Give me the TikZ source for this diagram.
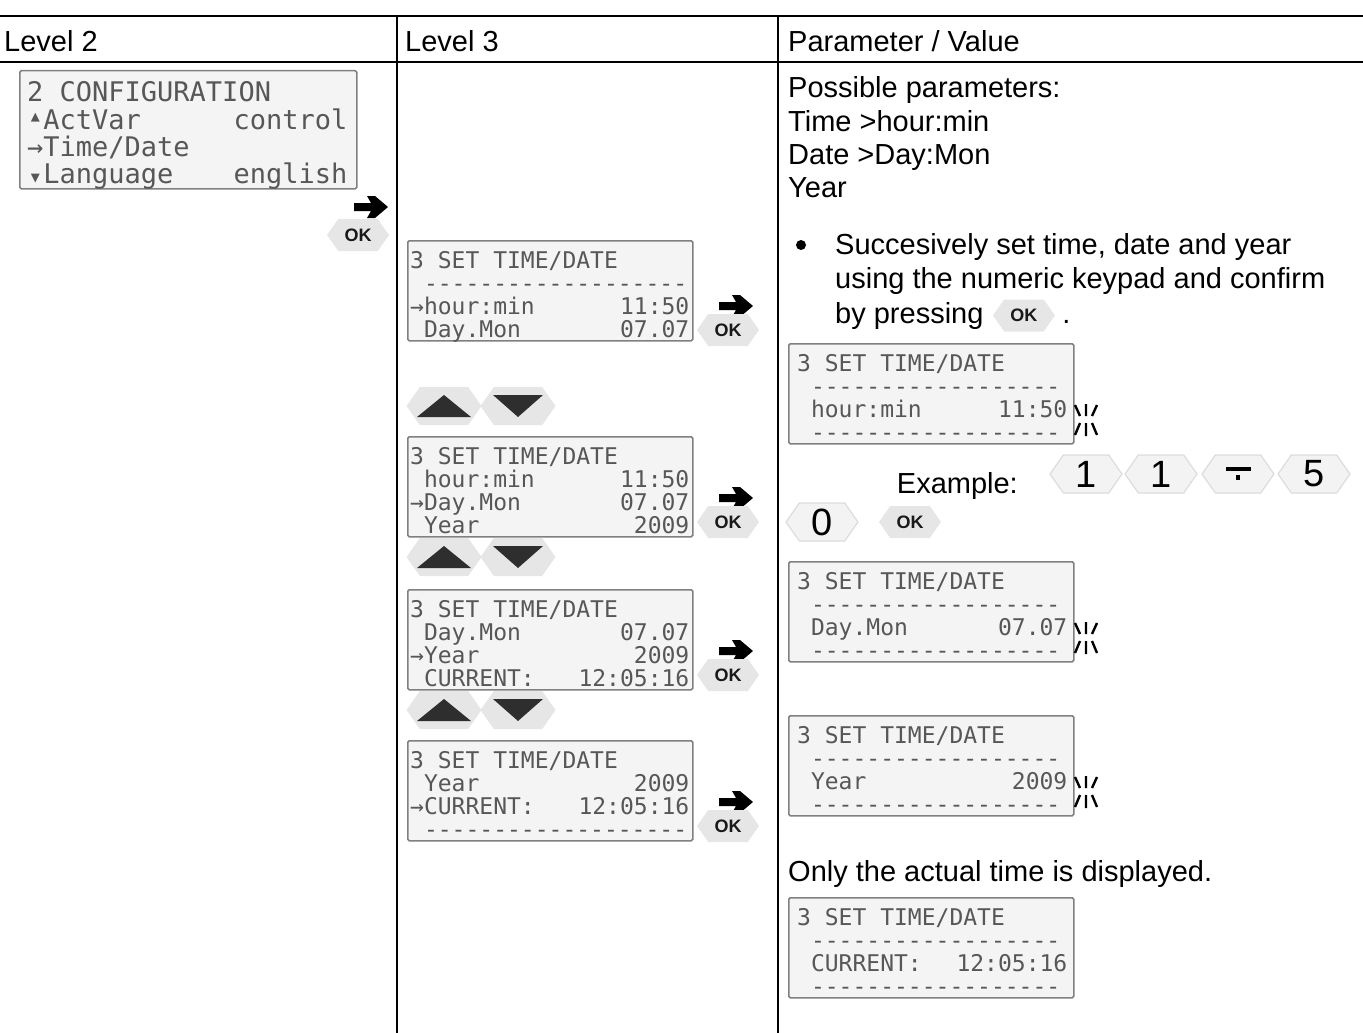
\documentclass[tikz,border=0pt]{standalone}
\usepackage{fontspec}
\setmainfont{Liberation Sans}
\setsansfont{Liberation Sans}
\setmonofont{DejaVu Sans Mono}
\usepackage{xcolor}
\usetikzlibrary{calc, positioning, shapes.symbols}
\definecolor{lcdfill}{HTML}{F4F4F4}
\definecolor{lcdframe}{HTML}{808080}
\definecolor{lcdink}{HTML}{575757}
\definecolor{keyfill}{HTML}{E6E6E6}
\definecolor{numfill}{HTML}{F3F3F3}
\definecolor{numframe}{HTML}{DCDCDC}
% simboli piccoli del display
\newcommand{\lcdup}{\makebox[0.602em][c]{\raisebox{0.28em}{\fontsize{15}{15}\selectfont ▲}}}
\newcommand{\lcddn}{\makebox[0.602em][c]{\raisebox{0.05em}{\fontsize{15}{15}\selectfont ▼}}}
% riga del display: nome, riga, testo sinistra, testo destra
\newcommand{\lcdrow}[4]{%
  \node[lcd text, anchor=base west] (#1-#2a) at ($(#1.north west)+(\lcdpad,\lcdbase+\lcdpitch*#2-\lcdpitch)$) {#3};
  \node[lcd text, anchor=base east] (#1-#2b) at ($(#1.north east)+(-\lcdpadr,\lcdbase+\lcdpitch*#2-\lcdpitch)$) {#4};}
\tikzset{
  % Tabella
  rule/.style={line width=2.4pt},
  colrule/.style={line width=1.4pt},
  head/.style={font=\fontsize{29}{29}\selectfont, anchor=base west, inner sep=0},
  body/.style={head},
  % Display
  lcd/.style={draw=lcdframe, line width=1.5pt, fill=lcdfill, rounded corners=1.5pt,
    anchor=north west, minimum width=285pt, minimum height=100pt, inner sep=0},
  lcd text/.style={font=\ttfamily\fontsize{\lcdfs}{\lcdfs}\selectfont, text=lcdink, inner sep=0},
  % Tasti
  key/.style={signal, signal to=west and east, signal pointer angle=110, inner sep=0},
  ok key/.style={key, fill=keyfill, minimum width=62pt, minimum height=32pt,
    font=\bfseries\fontsize{18}{18}\selectfont, text=black!90},
  num key/.style={key, fill=numfill, draw=numframe, line width=1.2pt, minimum width=72pt,
    minimum height=38pt, font=\fontsize{38}{38}\selectfont},
  arrow key/.style={key, fill=keyfill, minimum width=75pt, minimum height=38pt},
  tri/.style={fill=black!82},
  % Icone
  go/.pic={\fill (-17,-4) -- (0,-4) -- (-4,-11) -- (4,-11) -- (17,0) -- (4,11) -- (-4,11) -- (0,4) -- (-17,4) -- cycle;},
  blink/.pic={\draw[line width=2.4pt] (-11,-15) -- (-6,-4) (0,-16) -- (0,-4) (11,-15) -- (6,-4)
    (-6,3) -- (-11,15) (0,3) -- (0,16) (6,3) -- (11,15);}
}

\begin{document}
\begin{tikzpicture}[x=1pt, y=-1pt]
  \useasboundingbox (0,0) rectangle (1363,1033);
  % tabella
  \draw[rule] (0,16) -- (1363,16);
  \draw[rule] (0,62) -- (1363,62);
  \foreach \x in {397,778}
    \draw[colrule] (\x,16) -- (\x,1033);
  \node[head] (h2) at (4,52) {Level 2};
  \node[head] (h3) at (405,52) {Level 3};
  \node[head] (hp) at (788,52) {Parameter / Value};

  % Level 2
  \def\lcdfs{27}\def\lcdpad{8}\def\lcdpadr{10}\def\lcdbase{32}\def\lcdpitch{27.3}
  \node[lcd, minimum width=337pt, minimum height=118pt] (cfg) at (19,70) {};
  \lcdrow{cfg}{1}{2 CONFIGURATION}{}
  \lcdrow{cfg}{2}{\lcdup ActVar}{control}
  \lcdrow{cfg}{3}{→Time/Date}{}
  \lcdrow{cfg}{4}{\lcddn Language}{english}
  \pic at (371,207) {go};
  \node[ok key] (ok0) at (358,235) {OK};

  % Level 3
  \def\lcdfs{23}\def\lcdpad{3}\def\lcdpadr{4}\def\lcdbase{28}\def\lcdpitch{23}
  \foreach \n/\y in {A/240, B/436, C/589, D/740}
    \node[lcd] (set\n) at (407,\y) {};
  \lcdrow{setA}{1}{3 SET TIME/DATE}{}
  \lcdrow{setA}{2}{\ -------------------}{}
  \lcdrow{setA}{3}{→hour:min}{11:50}
  \lcdrow{setA}{4}{\ Day.Mon}{07.07}
  \lcdrow{setB}{1}{3 SET TIME/DATE}{}
  \lcdrow{setB}{2}{\ hour:min}{11:50}
  \lcdrow{setB}{3}{→Day.Mon}{07.07}
  \lcdrow{setB}{4}{\ Year}{2009}
  \lcdrow{setC}{1}{3 SET TIME/DATE}{}
  \lcdrow{setC}{2}{\ Day.Mon}{07.07}
  \lcdrow{setC}{3}{→Year}{2009}
  \lcdrow{setC}{4}{\ CURRENT:}{12:05:16}
  \lcdrow{setD}{1}{3 SET TIME/DATE}{}
  \lcdrow{setD}{2}{\ Year}{2009}
  \lcdrow{setD}{3}{→CURRENT:}{12:05:16}
  \lcdrow{setD}{4}{\ -------------------}{}
  \foreach \n/\y in {A/330, B/522, C/675, D/826} {
    \pic at (736,\y-24) {go};
    \node[ok key] (ok\n) at (728,\y) {OK};
  }
  \foreach \n/\y in {1/406, 2/557, 3/710} {
    \node[arrow key] (up\n) at (444,\y) {};
    \node[arrow key] (dn\n) at (518,\y) {};
    \fill[tri] ($(up\n.center)+(-27,11)$) -- ($(up\n.center)+(27,11)$) -- ($(up\n.center)+(0,-11)$) -- cycle;
    \fill[tri] ($(dn\n.center)+(-25,-11)$) -- ($(dn\n.center)+(25,-11)$) -- ($(dn\n.center)+(0,11)$) -- cycle;
  }

  % Parameter / Value
  \node[body] (p1) at (788,97) {Possible parameters:};
  \node[body] (p2) at (788,131) {Time >hour:min};
  \node[body] (p3) at (788,164) {Date >Day:Mon};
  \node[body] (p4) at (788,197) {Year};
  \node[circle, fill, inner sep=0, minimum size=10pt] (dot) at (801,245) {};
  \node[body] (s1) at (835,254) {Succesively set time, date and year};
  \node[body] (s2) at (835,288) {using the numeric keypad and confirm};
  \node[body] (s3) at (835,323) {by pressing};
  \node[ok key, right=9pt of s3] (okp) {OK};
  \node[body] (s3b) at ($(okp.east |- s3.base)+(7,0)$) {.};

  \def\lcdpad{9}\def\lcdpadr{7}
  \foreach \n/\y in {1/343, 2/561, 3/715, 4/897}
    \node[lcd] (par\n) at (788,\y) {};
  \lcdrow{par1}{1}{3 SET TIME/DATE}{}
  \lcdrow{par1}{2}{\ ------------------}{}
  \lcdrow{par1}{3}{\ hour:min}{11:50}
  \lcdrow{par1}{4}{\ ------------------}{}
  \lcdrow{par2}{1}{3 SET TIME/DATE}{}
  \lcdrow{par2}{2}{\ ------------------}{}
  \lcdrow{par2}{3}{\ Day.Mon}{07.07}
  \lcdrow{par2}{4}{\ ------------------}{}
  \lcdrow{par3}{1}{3 SET TIME/DATE}{}
  \lcdrow{par3}{2}{\ ------------------}{}
  \lcdrow{par3}{3}{\ Year}{2009}
  \lcdrow{par3}{4}{\ ------------------}{}
  \lcdrow{par4}{1}{3 SET TIME/DATE}{}
  \lcdrow{par4}{2}{\ ------------------}{}
  \lcdrow{par4}{3}{\ CURRENT:}{12:05:16}
  \lcdrow{par4}{4}{\ ------------------}{}
  \foreach \y in {420,638,792}
    \pic at (1086,\y) {blink};

  % tasti esempio
  \node[body, anchor=base east] (ex) at (1018,493) {Example:};
  \foreach \n/\x/\t in {1/1086/1, 2/1161/1, 4/1314/5}
    \node[num key] (k\n) at (\x,474) {\t};
  \node[num key] (k3) at (1238,474) {};
  \fill ($(k3.center)+(-12.5,-7)$) rectangle ($(k3.center)+(12.5,-3.5)$);
  \fill ($(k3.center)+(-2,1)$) rectangle ($(k3.center)+(2,6)$);
  \node[num key] (k0) at (822,522) {0};
  \node[ok key] (okx) at (910,522) {OK};

  \node[body] (only) at (788,881) {Only the actual time is displayed.};
\end{tikzpicture}
\end{document}
